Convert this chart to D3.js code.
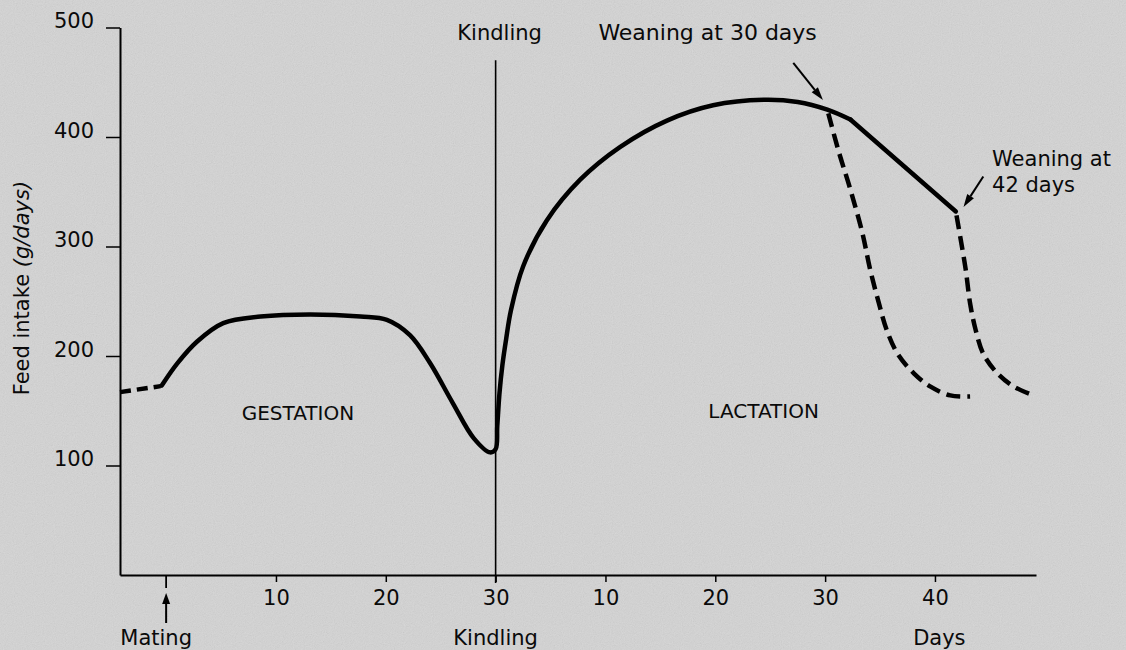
<!DOCTYPE html>
<html><head><meta charset="utf-8">
<script src="https://cdn.jsdelivr.net/npm/d3@7"></script>
<style>
html,body{margin:0;padding:0;background:#d2d2d2;}
svg{display:block;}
text{font-family:"DejaVu Sans",sans-serif;fill:#0a0a0a;}
</style></head><body>
<svg id="c" width="1126" height="650"></svg>
<script>
// ---- data (days, feed intake g/day) ----
const yTicks = [100, 200, 300, 400, 500];
const gestTicks = [10, 20, 30];
const lactTicks = [10, 20, 30, 40];

const preMatingDays   = [-4.2, -0.5];
const preMatingIntake = [167, 172.5];

const gestDays   = [-0.4, 1.0, 2.8, 5.2, 8.6, 13.1, 17.7, 20.1, 22.2, 24.0, 26.1, 28.0, 29.5];
const gestIntake = [173, 193, 213, 230, 236, 238, 236, 233, 219, 194, 157, 125, 112];

const lactDays   = [0, 0.15, 0.35, 0.62, 0.95, 1.4, 2.51, 4.67, 7.7, 11.35, 15.6, 19.8, 24.4, 27.5, 30.2, 32.3];
const lactIntake = [115, 136, 166, 192, 215, 242, 282, 324, 361, 391, 415, 429, 434, 432, 425, 416];

const declineDays   = [32.3, 41.9];
const declineIntake = [416, 332];

const wean30Days   = [30.2, 31.2, 32.3, 33.4, 34.1, 34.9, 35.6, 36.6, 38.1, 39.6, 41.4, 43.2];
const wean30Intake = [425, 388, 352, 312, 279, 248, 224, 202, 184, 172, 164, 163];

const wean42Days   = [41.9, 42.3, 42.8, 43.2, 43.7, 44.4, 45.7, 47.2, 49.0];
const wean42Intake = [332, 309, 279, 248, 224, 202, 184, 172, 164];

// ---- scales ----
const x = d3.scaleLinear().domain([-4.2, 79.2]).range([120, 1036]);     // days from mating
const xL = d3.scaleLinear().domain([-34.2, 49.2]).range([120, 1036]);   // days from kindling
const y = d3.scaleLinear().domain([0, 500]).range([575, 27.5]);

const svg = d3.select("#c");

// background with subtle grain
const defs = svg.append("defs");
const f = defs.append("filter").attr("id", "grain").attr("x", 0).attr("y", 0).attr("width", "100%").attr("height", "100%");
f.append("feTurbulence").attr("type", "fractalNoise").attr("baseFrequency", 0.9).attr("numOctaves", 2).attr("stitchTiles", "stitch");
f.append("feColorMatrix").attr("type", "matrix")
  .attr("values", "0.33 0.33 0.33 0 0  0.33 0.33 0.33 0 0  0.33 0.33 0.33 0 0  0 0 0 0 1");
svg.append("rect").attr("width", 1126).attr("height", 650).attr("fill", "#d6d6d6");
svg.append("rect").attr("width", 1126).attr("height", 650).attr("filter", "url(#grain)").attr("opacity", 0.16);

const TF = "21px";
// ---- axes ----
const yAxis = svg.append("g").attr("transform", `translate(${x(-4.2)},0)`)
  .call(d3.axisLeft(y).tickValues(yTicks).tickSize(14).tickSizeOuter(0).tickPadding(12));
yAxis.select(".domain").attr("stroke", "#000").attr("stroke-width", 2);
yAxis.selectAll(".tick line").attr("stroke", "#000").attr("stroke-width", 1.5);
yAxis.selectAll(".tick text").attr("dy", "0.02em").style("font-size", TF).style("font-family", "DejaVu Sans").attr("fill", "#0a0a0a");

const gAxis = svg.append("g").attr("transform", `translate(0,${y(0)})`)
  .call(d3.axisBottom(x).tickValues(gestTicks).tickSize(7).tickSizeOuter(0).tickPadding(8));
gAxis.select(".domain").attr("stroke", "#000").attr("stroke-width", 2);
gAxis.selectAll(".tick line").attr("stroke", "#000").attr("stroke-width", 1.5);
gAxis.selectAll(".tick text").style("font-size", TF).style("font-family", "DejaVu Sans").attr("fill", "#0a0a0a");

const lAxis = svg.append("g").attr("transform", `translate(0,${y(0)})`)
  .call(d3.axisBottom(xL).tickValues(lactTicks).tickSize(7).tickSizeOuter(0).tickPadding(8));
lAxis.select(".domain").remove();
lAxis.selectAll(".tick line").attr("stroke", "#000").attr("stroke-width", 1.5);
lAxis.selectAll(".tick text").style("font-size", TF).style("font-family", "DejaVu Sans").attr("fill", "#0a0a0a");

// mating tick
svg.append("line").attr("x1", x(0)).attr("x2", x(0)).attr("y1", y(0)).attr("y2", y(0) + 13)
  .attr("stroke", "#000").attr("stroke-width", 1.8);

// kindling vertical line
svg.append("line").attr("x1", x(30)).attr("x2", x(30)).attr("y1", y(470)).attr("y2", y(0) + 8)
  .attr("stroke", "#000").attr("stroke-width", 1.6);

// ---- arrows ----
function arrow(x1, y1, x2, y2, len, w, sw) {
  const a = Math.atan2(y2 - y1, x2 - x1);
  const bx = x2 - len * Math.cos(a), by = y2 - len * Math.sin(a);
  svg.append("line").attr("x1", x1).attr("y1", y1).attr("x2", bx).attr("y2", by)
    .attr("stroke", "#000").attr("stroke-width", sw);
  const px = -Math.sin(a) * w / 2, py = Math.cos(a) * w / 2;
  svg.append("path").attr("d", `M${x2},${y2}L${bx + px},${by + py}L${bx - px},${by - py}Z`).attr("fill", "#000");
}
arrow(x(0), y(0) + 48, x(0), y(0) + 18, 11, 8, 2);
arrow(xL(27.1), y(467.6), xL(29.8), y(433.8), 13, 8, 2);
arrow(xL(44.4), y(364), xL(42.6), y(336), 13, 8, 2);

// ---- curves ----
const line = d3.line().x(d => d[0]).y(d => d[1]).curve(d3.curveCatmullRom.alpha(0.5));
const lin = d3.line().x(d => d[0]).y(d => d[1]);

const solidPts = gestDays.map((d, i) => [x(d), y(gestIntake[i])])
  .concat(lactDays.map((d, i) => [xL(d), y(lactIntake[i])]));
svg.append("path").attr("d", line(solidPts)).attr("fill", "none")
  .attr("stroke", "#000").attr("stroke-width", 4.5).attr("stroke-linecap", "round").attr("stroke-linejoin", "round");

svg.append("path").attr("d", lin(declineDays.map((d, i) => [xL(d), y(declineIntake[i])])))
  .attr("fill", "none").attr("stroke", "#000").attr("stroke-width", 4.5).attr("stroke-linecap", "round");

svg.append("path").attr("d", lin(preMatingDays.map((d, i) => [x(d), y(preMatingIntake[i])])))
  .attr("fill", "none").attr("stroke", "#000").attr("stroke-width", 4.5).attr("stroke-dasharray", "11,6");

svg.append("path").attr("d", line(wean30Days.map((d, i) => [xL(d), y(wean30Intake[i])])))
  .attr("fill", "none").attr("stroke", "#000").attr("stroke-width", 4.5).attr("stroke-dasharray", "14,7").attr("stroke-dashoffset", -4);

svg.append("path").attr("d", line(wean42Days.map((d, i) => [xL(d), y(wean42Intake[i])])))
  .attr("fill", "none").attr("stroke", "#000").attr("stroke-width", 4.5).attr("stroke-dasharray", "14,7").attr("stroke-dashoffset", -4);

// ---- labels ----
function label(t, tx, ty, anchor, size) {
  return svg.append("text").attr("x", tx).attr("y", ty).attr("text-anchor", anchor || "middle")
    .style("font-size", (size || 21) + "px").text(t);
}
label("Mating", x(0) - 10, 645);
label("Kindling", x(30), 645);
label("Days", xL(40.4), 645);
label("Kindling", x(30) + 4, 40);
label("Weaning at 30 days", xL(19.3), 40, "middle", 22);
label("Weaning at", xL(45.2), 166, "start");
label("42 days", xL(45.2), 192, "start");
label("GESTATION", x(12), y(142), "middle", 20);
label("LACTATION", xL(24.4), y(143.4), "middle", 20);

const yt = svg.append("text").attr("transform", `translate(29,${y(262)}) rotate(-90)`)
  .attr("text-anchor", "middle").style("font-size", "21px");
yt.append("tspan").text("Feed intake ");
yt.append("tspan").style("font-style", "italic").text("(g/days)");
</script></body></html>
